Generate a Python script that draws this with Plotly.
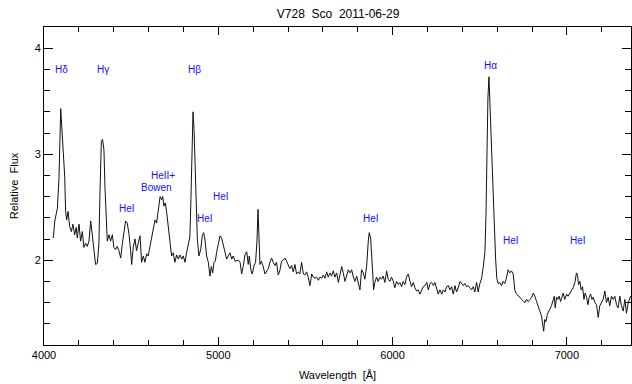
import plotly.graph_objects as go

# Spectrum of V728 Sco, 2011-06-29: wavelength [Angstrom] and relative flux
wavelength = [
    4053, 4063, 4077, 4086, 4096, 4105, 4111, 4119, 4124, 4130, 4138, 4147, 4157, 4166, 4176,
    4185, 4191, 4201, 4210, 4220, 4229, 4239, 4248, 4258, 4268, 4277, 4287, 4296, 4306, 4315,
    4321, 4329, 4336, 4344, 4350, 4358, 4363, 4373, 4382, 4392, 4401, 4411, 4420, 4430, 4440,
    4449, 4459, 4468, 4478, 4488, 4497, 4503, 4512, 4522, 4531, 4541, 4549,
    4551, 4560, 4570, 4579, 4589, 4598, 4608, 4618, 4627, 4637, 4646, 4656, 4666, 4675, 4681,
    4688, 4696, 4704, 4713, 4723, 4732, 4742, 4751, 4761, 4771, 4780, 4790, 4799, 4809, 4818,
    4828, 4837, 4843, 4849, 4855, 4861, 4866, 4872, 4880, 4889, 4899, 4908, 4916, 4923, 4933,
    4943, 4952, 4960, 4968, 4975, 4983, 4990, 5000, 5010, 5019, 5029, 5038, 5048, 5057, 5067,
    5077, 5086,
    5096, 5115, 5125, 5134, 5144, 5153, 5163, 5172, 5178, 5188, 5195, 5205, 5214, 5222, 5228,
    5234, 5239, 5247, 5256, 5268, 5277, 5287, 5296, 5306, 5315, 5325, 5334, 5344, 5353, 5363,
    5373, 5383, 5392, 5402, 5411, 5421, 5430, 5440, 5449, 5459, 5468, 5478, 5488, 5497, 5507,
    5516, 5526, 5536, 5545, 5555, 5564, 5574, 5583, 5593, 5603, 5612, 5622, 5631,
    5641, 5650, 5660, 5669, 5679, 5689, 5698, 5708, 5717, 5727, 5736, 5746, 5756, 5765, 5775,
    5784, 5794, 5803, 5813, 5822, 5832, 5841, 5851, 5861, 5866, 5874, 5879, 5885, 5891, 5898,
    5908, 5917, 5927, 5937, 5946, 5956, 5966, 5975, 5985, 5994, 6004, 6013, 6023, 6033, 6042,
    6052, 6061, 6071, 6080, 6090, 6100, 6109, 6119, 6128, 6138, 6147, 6157, 6166, 6176,
    6186, 6196, 6205, 6215, 6224, 6234, 6243, 6253, 6262, 6272, 6282, 6291, 6301, 6310, 6320,
    6329, 6339, 6348, 6358, 6367, 6377, 6387, 6396, 6406, 6415, 6425, 6434, 6444, 6453, 6463,
    6472, 6482, 6491, 6501, 6511, 6520, 6530, 6536, 6541, 6547, 6553, 6559, 6564, 6572, 6577,
    6583, 6591, 6598, 6606, 6615, 6625, 6634, 6644, 6653, 6663, 6673, 6682, 6692, 6701, 6711,
    6720,
    6731, 6740, 6750, 6760, 6769, 6779, 6788, 6798, 6807, 6817, 6826, 6836, 6845, 6855, 6861,
    6867, 6873, 6880, 6888, 6896, 6903, 6912, 6922, 6928, 6933, 6941, 6948, 6956, 6964, 6971,
    6979, 6988, 6998, 7007, 7017, 7026, 7036, 7046, 7055, 7061, 7067, 7075, 7082, 7090, 7098,
    7105, 7113, 7121, 7128, 7136, 7144, 7151, 7161, 7170, 7180, 7189, 7199, 7208, 7218, 7227,
    7237, 7246, 7256, 7266, 7275, 7285, 7294, 7304, 7313, 7323, 7333, 7342, 7352, 7361, 7366,
]
flux = [
    2.21, 2.38, 2.49, 2.78, 3.43, 3.18, 3.12, 2.78, 2.46, 2.38, 2.46, 2.32, 2.27, 2.34, 2.24,
    2.31, 2.21, 2.34, 2.18, 2.27, 2.12, 2.16, 2.13, 2.18, 2.37, 2.24, 2.05, 1.96, 1.97, 2.15,
    2.62, 3.12, 3.14, 3.04, 2.68, 2.37, 2.18, 2.24, 2.18, 2.24, 2.12, 2.10, 2.13, 2.09, 2.02,
    2.15, 2.27, 2.37, 2.35, 2.24, 2.09, 1.96, 2.12, 2.20, 2.09, 2.18, 2.22,
    2.23, 1.98, 2.04, 1.98, 2.06, 2.04, 2.13, 2.22, 2.28, 2.38, 2.35, 2.48, 2.60, 2.57, 2.60,
    2.51, 2.54, 2.45, 2.32, 2.20, 2.04, 2.07, 1.98, 2.05, 2.01, 2.05, 2.01, 2.04, 1.98, 2.07,
    2.16, 2.22, 2.57, 3.14, 3.40, 3.23, 2.89, 2.57, 2.19, 2.04, 2.10, 2.23, 2.26, 2.20, 2.04,
    1.98, 1.85, 1.94, 1.88, 1.98, 1.99, 2.07, 2.16, 2.23, 2.21, 2.13, 2.07, 2.01, 2.04, 2.07,
    2.01, 2.04,
    1.99, 2.00, 1.98, 1.87, 1.95, 2.05, 2.08, 1.96, 2.04, 1.90, 1.87, 1.95, 1.98, 2.18, 2.48,
    2.15, 1.96, 1.99, 1.95, 1.87, 1.89, 1.92, 1.98, 2.02, 1.98, 1.95, 1.98, 1.86, 1.90, 1.99,
    2.00, 2.02, 1.99, 1.95, 1.92, 1.95, 1.89, 1.96, 1.87, 1.89, 1.87, 1.98, 1.87, 1.86, 1.89,
    1.84, 1.76, 1.87, 1.84, 1.83, 1.84, 1.81, 1.84, 1.83, 1.86, 1.83, 1.89, 1.84,
    1.88, 1.85, 1.90, 1.84, 1.88, 1.79, 1.85, 1.94, 1.88, 1.80, 1.85, 1.91, 1.88, 1.91, 1.84,
    1.80, 1.85, 1.77, 1.72, 1.91, 1.88, 1.82, 1.94, 2.19, 2.26, 2.21, 2.11, 1.91, 1.72, 1.79,
    1.84, 1.80, 1.84, 1.82, 1.85, 1.79, 1.90, 1.82, 1.80, 1.84, 1.80, 1.74, 1.80, 1.77, 1.79,
    1.75, 1.80, 1.77, 1.84, 1.87, 1.80, 1.75, 1.79, 1.74, 1.71, 1.72, 1.68, 1.72, 1.75,
    1.76, 1.79, 1.72, 1.78, 1.79, 1.76, 1.79, 1.74, 1.68, 1.72, 1.68, 1.72, 1.70, 1.75, 1.76,
    1.72, 1.75, 1.68, 1.76, 1.70, 1.74, 1.80, 1.78, 1.76, 1.78, 1.75, 1.76, 1.74, 1.72, 1.75,
    1.70, 1.79, 1.70, 1.78, 1.83, 1.93, 2.08, 2.43, 3.09, 3.53, 3.73, 3.47, 3.12, 2.93, 2.62,
    2.27, 2.02, 1.83, 1.78, 1.79, 1.76, 1.80, 1.78, 1.83, 1.91, 1.88, 1.90, 1.87, 1.72, 1.68,
    1.67,
    1.65, 1.63, 1.61, 1.60, 1.63, 1.61, 1.63, 1.65, 1.69, 1.66, 1.61, 1.55, 1.52, 1.47, 1.38,
    1.33, 1.44, 1.42, 1.49, 1.52, 1.55, 1.57, 1.63, 1.66, 1.55, 1.65, 1.63, 1.66, 1.61, 1.66,
    1.69, 1.63, 1.68, 1.66, 1.69, 1.71, 1.74, 1.79, 1.88, 1.86, 1.77, 1.80, 1.72, 1.75, 1.63,
    1.69, 1.65, 1.58, 1.65, 1.68, 1.63, 1.65, 1.60, 1.58, 1.46, 1.57, 1.60, 1.63, 1.71, 1.60,
    1.65, 1.57, 1.66, 1.63, 1.66, 1.58, 1.55, 1.66, 1.57, 1.52, 1.63, 1.50, 1.60, 1.65, 1.66,
]

# Line identifications: label text, wavelength and flux level where the label sits
line_labels = ["Hδ", "Hγ", "Hβ", "Hα", "HeII+", "Bowen", "HeI", "HeI", "HeI", "HeI", "HeI", "HeI"]
label_wl = [4103, 4338, 4861, 6563, 4683, 4647, 4474, 4924, 5015, 5874, 6678, 7066]
label_flux = [3.80, 3.80, 3.80, 3.84, 2.80, 2.69, 2.49, 2.39, 2.60, 2.39, 2.19, 2.19]

fig = go.Figure()
fig.add_trace(go.Scatter(
    x=wavelength, y=flux, mode="lines",
    line=dict(color="#111111", width=1),
    showlegend=False, hoverinfo="skip",
))

for txt, wl, fl in zip(line_labels, label_wl, label_flux):
    fig.add_annotation(
        x=wl, y=fl, xref="x", yref="y", text=txt, showarrow=False,
        font=dict(family="Liberation Sans, Arial, sans-serif", size=10, color="#1010ff"),
        xanchor="center", yanchor="middle",
    )

axis_common = dict(
    showgrid=False, zeroline=False, showline=True, linecolor="black", linewidth=1,
    mirror="allticks", ticks="inside", tickcolor="black", tickwidth=1,
    tickfont=dict(family="Liberation Sans, Arial, sans-serif", size=11, color="black"),
)

fig.update_layout(
    width=632, height=384,
    margin=dict(l=44, r=1, t=27, b=39),
    paper_bgcolor="white", plot_bgcolor="white",
    title=dict(
        text="V728  Sco  2011-06-29", x=0.535, xanchor="center", y=0.975, yanchor="top",
        font=dict(family="Liberation Sans, Arial, sans-serif", size=12, color="black"),
    ),
    xaxis=dict(
        range=[4000, 7368], dtick=1000, tick0=4000, ticklen=8,
        minor=dict(ticks="inside", dtick=200, ticklen=5, tickcolor="black"),
        title=dict(text="Wavelength  [Å]", standoff=11,
                   font=dict(family="Liberation Sans, Arial, sans-serif", size=11, color="black")),
        **axis_common,
    ),
    yaxis=dict(
        range=[1.2, 4.2], dtick=1, tick0=2, ticklen=9,
        minor=dict(ticks="inside", dtick=0.2, ticklen=6, tickcolor="black"),
        title=dict(text="Relative  Flux", standoff=13,
                   font=dict(family="Liberation Sans, Arial, sans-serif", size=11, color="black")),
        **axis_common,
    ),
)

fig.write_html("out.html")
